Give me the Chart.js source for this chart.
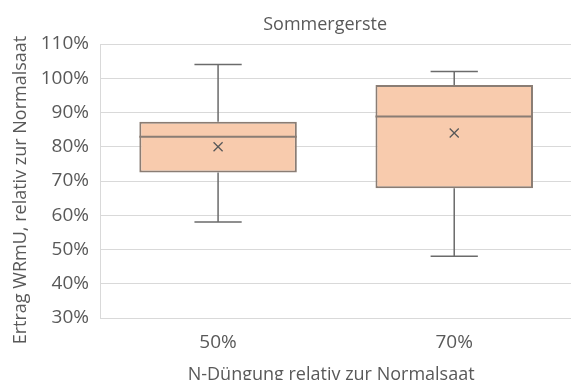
<!DOCTYPE html>
<html>
<head>
<meta charset="utf-8">
<script src="https://cdn.jsdelivr.net/npm/chart.js@4/dist/chart.umd.min.js"></script>
<style>
  html, body { margin: 0; padding: 0; background: #fff; overflow: hidden; }
  canvas { display: block; }
</style>
</head>
<body>
<canvas id="boxChart" width="580" height="380"></canvas>
<script>
const categories = ["50%", "70%"]
const whiskerMin = [58, 48]
const quartile1 = [72.5, 67.9]
const median = [82.9, 88.8]
const quartile3 = [87.3, 98]
const whiskerMax = [104, 102]
const mean = [80, 84]

const yTicks = [30, 40, 50, 60, 70, 80, 90, 100, 110]

const chartTitle = "Sommergerste"
const xTitle = "N-Düngung relativ zur Normalsaat"
const yTitle = "Ertrag WRmU, relativ zur Normalsaat"

const textColor = "#595959"
const lineColor = "#6b6b6b"
const boxBorder = "#8a7d74"
const fontFamily = "'Open Sans', 'Noto Sans', sans-serif"

// whiskers, caps and median lines, placed with the chart's own scales
const boxLines = {
  id: "boxLines",
  afterDatasetsDraw(chart){
    const ctx = chart.ctx
    const x = chart.scales.x
    const y = chart.scales.y
    const bars = chart.getDatasetMeta(0).data

    categories.forEach((cat, i) => {
      const cx = x.getPixelForValue(i)
      const half = bars[i].width / 2
      const cap = half * 0.3

      ctx.save()
      ctx.strokeStyle = lineColor
      ctx.lineWidth = 1.5
      ctx.beginPath()
      ctx.moveTo(cx, y.getPixelForValue(quartile3[i]))
      ctx.lineTo(cx, y.getPixelForValue(whiskerMax[i]))
      ctx.moveTo(cx - cap, y.getPixelForValue(whiskerMax[i]))
      ctx.lineTo(cx + cap, y.getPixelForValue(whiskerMax[i]))
      ctx.moveTo(cx, y.getPixelForValue(quartile1[i]))
      ctx.lineTo(cx, y.getPixelForValue(whiskerMin[i]))
      ctx.moveTo(cx - cap, y.getPixelForValue(whiskerMin[i]))
      ctx.lineTo(cx + cap, y.getPixelForValue(whiskerMin[i]))
      ctx.stroke()

      ctx.strokeStyle = boxBorder
      ctx.lineWidth = 2
      ctx.beginPath()
      ctx.moveTo(cx - half, y.getPixelForValue(median[i]))
      ctx.lineTo(cx + half, y.getPixelForValue(median[i]))
      ctx.stroke()
      ctx.restore()
    })
  }
}

// chart title and axis titles, set off from the plot area
const titles = {
  id: "titles",
  afterDraw(chart){
    const ctx = chart.ctx
    const area = chart.chartArea
    const midX = (area.left + area.right) / 2
    const midY = (area.top + area.bottom) / 2

    ctx.save()
    ctx.fillStyle = textColor
    ctx.font = "18px " + fontFamily
    ctx.textAlign = "center"

    ctx.textBaseline = "middle"
    ctx.fillText(chartTitle, midX - 11, area.top - 19)

    ctx.textBaseline = "alphabetic"
    ctx.fillText(xTitle, midX - 5, area.bottom + 62)

    ctx.translate(21, midY + 9)
    ctx.rotate(-Math.PI / 2)
    ctx.textBaseline = "middle"
    ctx.fillText(yTitle, 0, 0)
    ctx.restore()
  }
}

new Chart(document.getElementById("boxChart"), {
  data: {
    labels: categories,
    datasets: [{
      type: "bar",
      data: categories.map((c, i) => [quartile1[i], quartile3[i]]),
      backgroundColor: "#f8cbad",
      borderColor: boxBorder,
      borderWidth: 2,
      borderSkipped: false,
      categoryPercentage: 1,
      barPercentage: 0.667,
      order: 2
    }, {
      type: "scatter",
      data: categories.map((c, i) => ({ x: c, y: mean[i] })),
      pointStyle: "crossRot",
      pointRadius: 6.4,
      borderColor: "#595959",
      borderWidth: 1.3,
      order: 1
    }]
  },
  options: {
    responsive: false,
    animation: false,
    layout: { padding: { top: 44, right: 1, bottom: 0, left: 0 } },
    plugins: {
      legend: { display: false },
      tooltip: { enabled: false },
      title: { display: false }
    },
    scales: {
      x: {
        type: "category",
        afterFit(axis){ axis.height = 62 },
        grid: { display: false, drawTicks: false },
        border: { display: false },
        ticks: { color: textColor, font: { family: fontFamily, size: 19 }, padding: 13 }
      },
      y: {
        min: yTicks[0],
        max: yTicks[yTicks.length - 1],
        afterFit(axis){ axis.width = 100 },
        afterBuildTicks(axis){
          axis.ticks = yTicks.map(v => ({ value: v }))
        },
        grid: { color: "#d9d9d9", drawTicks: false },
        border: { display: true, color: "#d9d9d9" },
        ticks: {
          color: textColor,
          font: { family: fontFamily, size: 19 },
          padding: 11,
          callback: v => v + "%"
        }
      }
    }
  },
  plugins: [boxLines, titles]
})
</script>
</body>
</html>
